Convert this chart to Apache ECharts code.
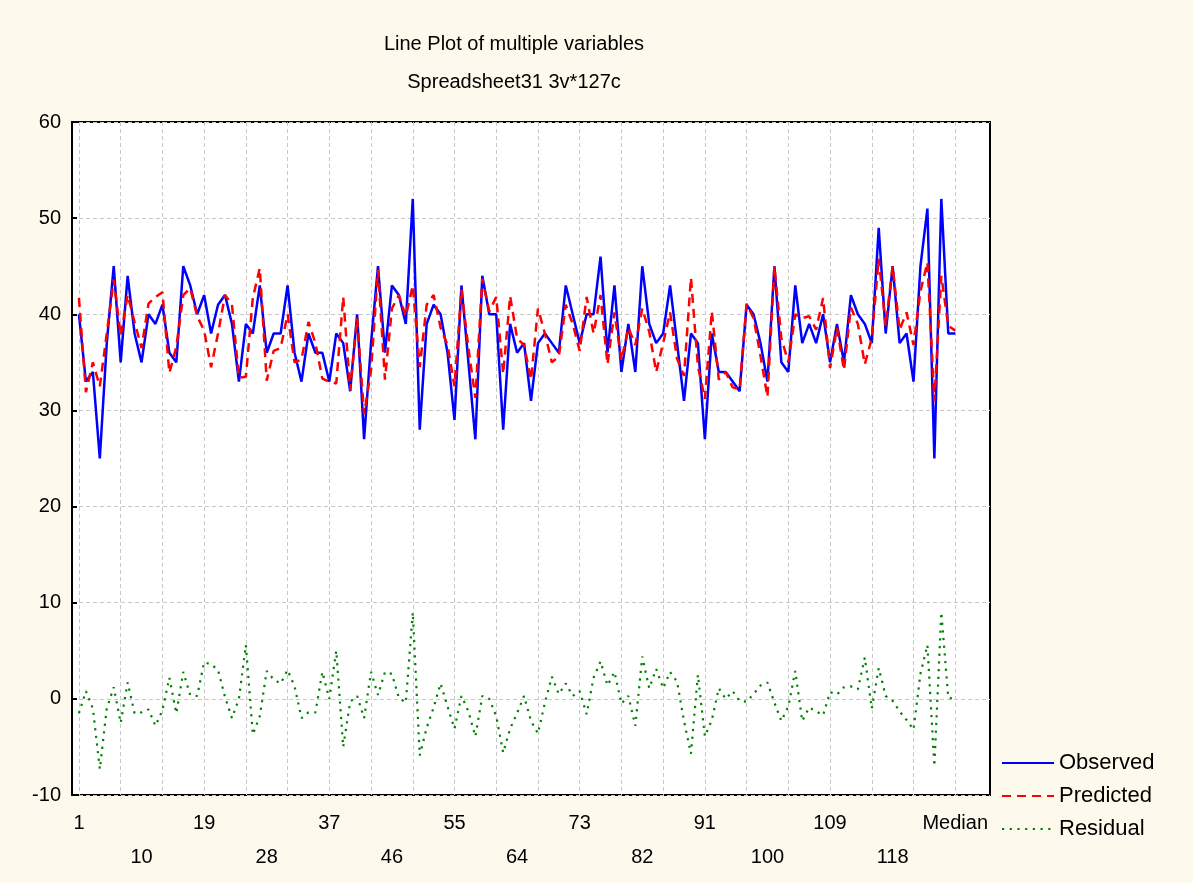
<!DOCTYPE html>
<html>
<head>
<meta charset="utf-8">
<script src="https://cdn.jsdelivr.net/npm/echarts@6/dist/echarts.min.js"></script>
<style>
  html, body { margin: 0; padding: 0; background: #ffffff; }
  #chart { width: 1193px; height: 883px; }
</style>
</head>
<body>
<div id="chart"></div>
<script>
// Case labels: cases 1..126 followed by the median row
const caseLabels = [];
for (let i = 1; i <= 126; i++) caseLabels.push(String(i));
caseLabels.push('Median');

const observed = [
  40, 33, 34, 25, 37, 45, 35, 44, 38, 35,
  40, 39, 41, 36, 35, 45, 43, 40, 42, 38,
  41, 42, 39, 33, 39, 38, 43, 36, 38, 38,
  43, 36, 33, 38, 36, 36, 33, 38, 37, 32,
  40, 27, 37, 45, 36, 43, 42, 39, 52, 28,
  39, 41, 40, 36, 29, 43, 35, 27, 44, 40,
  40, 28, 39, 36, 37, 31, 37, 38, 37, 36,
  43, 40, 37, 40, 40, 46, 36, 43, 34, 39,
  34, 45, 39, 37, 38, 43, 37, 31, 38, 37,
  27, 38, 34, 34, 33, 32, 41, 40, 37, 33,
  45, 35, 34, 43, 37, 39, 37, 40, 35, 39,
  35, 42, 40, 39, 37, 49, 38, 45, 37, 38,
  33, 45, 51, 25, 52, 38, 38
];

const predicted = [
  41.7, 31.9, 35.0, 32.5, 38.0, 43.6, 37.8, 42.0, 39.2, 36.5,
  41.1, 41.8, 42.3, 33.9, 36.6, 42.0, 42.7, 39.8, 38.3, 34.5,
  38.0, 42.0, 41.0, 33.4, 33.5, 41.7, 44.8, 33.1, 36.2, 36.5,
  40.0, 35.0, 35.3, 39.2, 37.0, 33.3, 33.0, 32.8, 41.8, 32.1,
  39.6, 29.6, 34.2, 44.6, 33.2, 40.6, 42.0, 39.8, 43.0, 34.5,
  41.0, 42.0, 38.6, 36.8, 32.5, 42.6, 36.5, 31.3, 43.7, 40.3,
  41.8, 33.8, 41.9, 37.5, 36.8, 33.2, 40.6, 38.0, 35.0, 35.6,
  41.0, 39.0, 36.2, 41.8, 38.0, 42.0, 34.8, 40.2, 35.2, 38.6,
  36.8, 40.6, 38.2, 34.0, 37.0, 40.2, 35.4, 33.6, 43.8, 34.6,
  31.2, 40.3, 33.2, 34.0, 32.4, 32.2, 41.1, 39.6, 35.7, 31.4,
  45.0, 37.5, 35.0, 40.0, 39.6, 39.8, 38.4, 41.7, 34.4, 38.6,
  34.2, 40.7, 39.0, 34.8, 37.5, 45.8, 38.8, 45.0, 38.4, 40.2,
  36.8, 42.4, 45.4, 31.0, 44.0, 38.8, 38.3
];

const residual = [
  -1.5, 0.8, -1.0, -7.3, -1.0, 1.2, -2.5, 1.7, -1.5, -1.4,
  -1.1, -2.8, -1.2, 2.2, -1.5, 2.8, 0.4, 0.3, 3.8, 3.6,
  3.0, 0.2, -2.0, 0.0, 5.6, -3.7, -1.8, 2.9, 2.0, 1.6,
  3.0, 1.3, -2.0, -1.4, -1.4, 2.8, 0.0, 5.0, -5.0, -0.3,
  0.3, -2.0, 2.8, 0.4, 2.8, 2.6, 0.1, -0.4, 9.0, -5.9,
  -3.0, -0.9, 1.6, -0.8, -3.1, 0.3, -1.3, -3.9, 0.3, 0.0,
  -1.8, -5.6, -3.1, -1.5, 0.3, -2.3, -3.6, -0.4, 2.3, 0.5,
  1.6, 0.3, 0.8, -1.6, 2.2, 3.9, 1.4, 2.8, -0.5, 0.3,
  -2.8, 4.4, 1.1, 3.1, 1.1, 2.8, 1.8, -2.3, -5.7, 2.5,
  -3.9, -2.2, 1.1, 0.0, 0.8, -0.2, -0.3, 0.5, 1.4, 1.7,
  -0.4, -2.3, -0.8, 2.9, -2.3, -0.9, -1.3, -1.7, 0.7, 0.45,
  1.2, 1.3, 1.0, 4.3, -1.0, 3.2, 0.3, -0.2, -1.3, -2.2,
  -3.2, 2.6, 5.6, -7.0, 9.0, 0.1, 0.0
];

const yTicks = { min: -10, max: 60, step: 10 };
const labelStep = 9;   // x labels every 9 cases, alternating rows
const gridStep = 6;    // vertical grid every 6 cases
const padBefore = 1;   // empty slot before case 1
const padAfter = 5;    // empty slots after the median

// category axis: blank slot, the 127 cases, then trailing blank slots
const axisCats = [''];
caseLabels.forEach(c => axisCats.push(c));
for (let i = 0; i < padAfter; i++) axisCats.push('');

const lastCase = caseLabels.length; // index of "Median" on the axis
const pad = arr => [null].concat(arr);

const FONT = 'Liberation Sans, Arial, sans-serif';
const gridLine = { color: '#c8c8c8', width: 1, type: [4, 3] };

const chart = echarts.init(document.getElementById('chart'), null, { renderer: 'canvas' });

chart.setOption({
  animation: false,
  backgroundColor: '#FDF9EC',
  title: [
    {
      text: 'Line Plot of multiple variables',
      left: 509, top: 29, textAlign: 'center',
      textStyle: { fontFamily: FONT, fontSize: 20, fontWeight: 'normal', color: '#000' }
    },
    {
      text: 'Spreadsheet31 3v*127c',
      left: 509, top: 67, textAlign: 'center',
      textStyle: { fontFamily: FONT, fontSize: 20, fontWeight: 'normal', color: '#000' }
    }
  ],
  legend: {
    orient: 'vertical',
    left: 1001, top: 752,
    itemWidth: 52, itemHeight: 14, itemGap: 11,
    padding: 0,
    itemStyle: { opacity: 0, borderWidth: 0 },
    textStyle: { fontFamily: FONT, fontSize: 22, color: '#000' },
    data: ['Observed', 'Predicted', 'Residual']
  },
  grid: {
    left: 72, right: 203, top: 122, bottom: 88,
    show: true, backgroundColor: '#ffffff',
    borderColor: '#000000', borderWidth: 2
  },
  xAxis: {
    type: 'category',
    boundaryGap: false,
    data: axisCats,
    axisLine: { show: false },
    axisTick: { show: false },
    axisLabel: {
      interval: (i) => i >= padBefore && i <= lastCase && (i - padBefore) % labelStep === 0,
      formatter: (v, i) => (((i - padBefore) / labelStep) % 2 === 1 ? '\n' + v : v),
      fontFamily: FONT, fontSize: 20, color: '#000',
      lineHeight: 34, margin: 11
    },
    splitLine: {
      show: true,
      interval: (i) => i >= padBefore && i <= lastCase && (i - padBefore) % gridStep === 0,
      lineStyle: gridLine
    }
  },
  yAxis: {
    type: 'value',
    min: yTicks.min, max: yTicks.max, interval: yTicks.step,
    axisLine: { show: false },
    axisTick: { show: true, inside: true, length: 5, lineStyle: { color: '#000', width: 2 } },
    axisLabel: { fontFamily: FONT, fontSize: 20, color: '#000', margin: 11 },
    splitLine: { show: true, lineStyle: gridLine }
  },
  series: [
    {
      name: 'Observed', type: 'line', data: pad(observed),
      symbol: 'none', color: '#0000FF',
      lineStyle: { color: '#0000FF', width: 2.5 }
    },
    {
      name: 'Predicted', type: 'line', data: pad(predicted),
      symbol: 'none', color: '#FF0000',
      lineStyle: { color: '#FF0000', width: 2.5, type: [9, 6] }
    },
    {
      name: 'Residual', type: 'line', data: pad(residual),
      symbol: 'none', color: '#008000',
      lineStyle: { color: '#008000', width: 2.2, type: [2.2, 5.5] }
    }
  ]
});
</script>
</body>
</html>
